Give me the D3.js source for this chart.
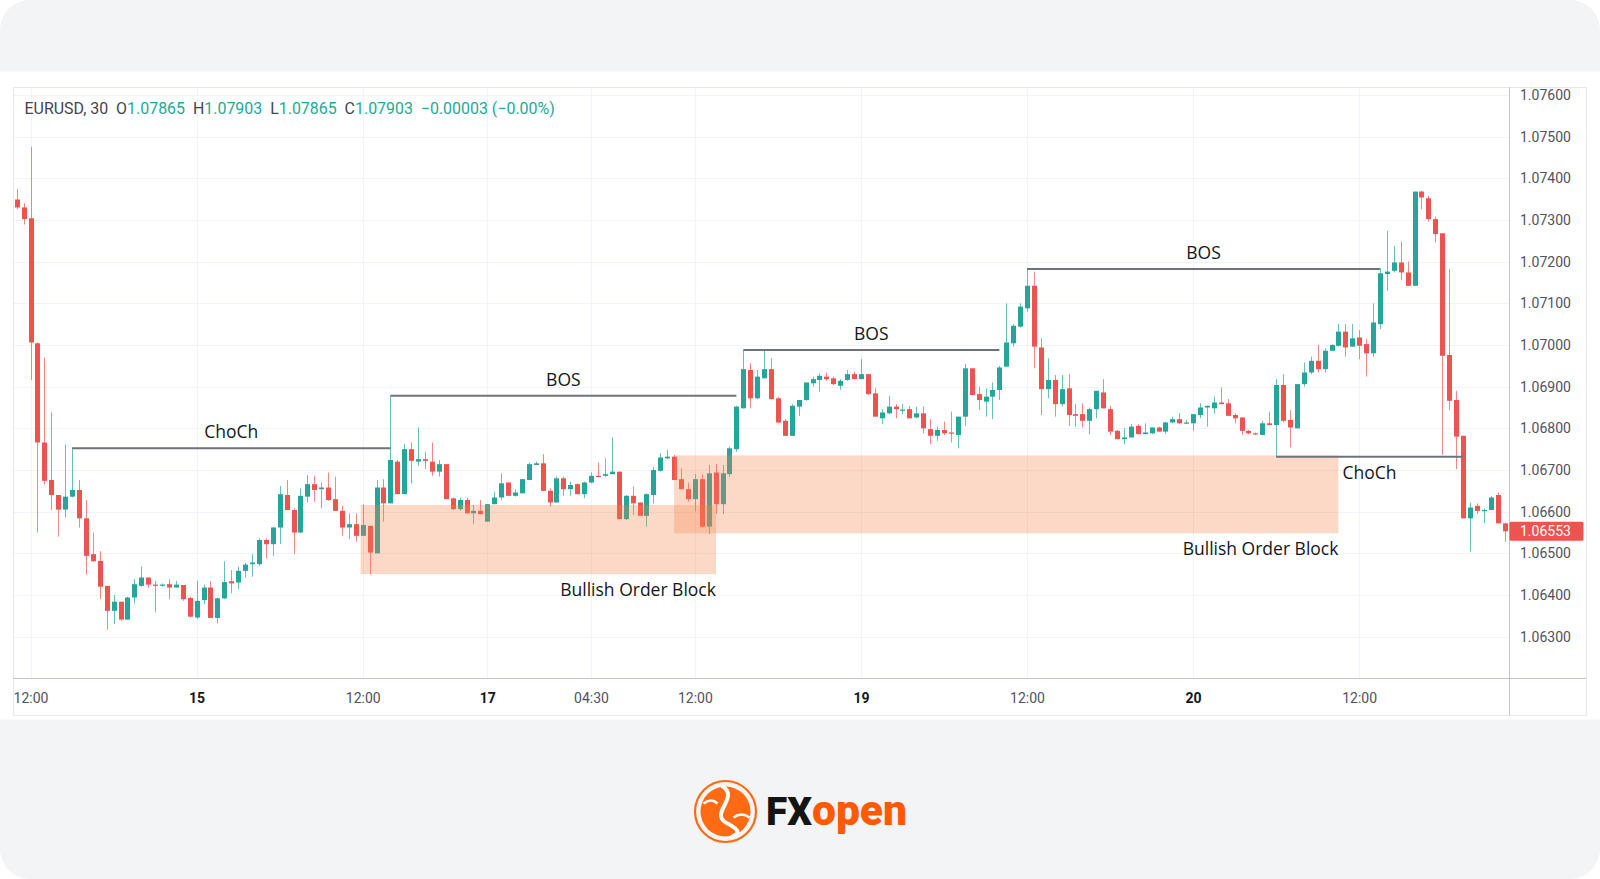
<!DOCTYPE html>
<html><head><meta charset="utf-8">
<script src="https://cdn.jsdelivr.net/npm/d3@7"></script>
<style>html,body{margin:0;padding:0;background:#fff;overflow:hidden}svg{display:block}</style>
</head><body>
<svg id="c" width="1600" height="879"></svg>
<script>
// ---------------- DATA ----------------
const opens = [1.07349,1.07330,1.07304,1.07004,1.06766,1.06676,1.06640,1.06605,1.06636,1.06652,
1.06584,1.06498,1.06482,1.06422,1.06362,1.06384,1.06341,1.06394,1.06422,1.06442,
1.06425,1.06422,1.06426,1.06418,1.06424,1.06393,1.06346,1.06388,1.06418,1.06345,
1.06392,1.06433,1.06430,1.06458,1.06474,1.06474,1.06532,1.06522,1.06562,1.06640,
1.06604,1.06550,1.06636,1.06666,1.06654,1.06658,1.06630,1.06602,1.06562,1.06570,
1.06542,1.06566,1.06500,1.06658,1.06620,1.06720,1.06642,1.06750,1.06720,1.06726,
1.06720,1.06696,1.06714,1.06632,1.06606,1.06628,1.06596,1.06602,1.06576,1.06618,
1.06634,1.06670,1.06638,1.06644,1.06676,1.06712,1.06716,1.06650,1.06622,1.06680,
1.06654,1.06666,1.06642,1.06670,1.06686,1.06686,1.06690,1.06696,1.06582,1.06638,
1.06622,1.06590,1.06640,1.06698,1.06728,1.06732,1.06678,1.06654,1.06630,1.06678,
1.06564,1.06694,1.06618,1.06690,1.06750,1.06848,1.06940,1.06872,1.06920,1.06942,
1.06872,1.06818,1.06782,1.06852,1.06868,1.06908,1.06916,1.06924,1.06920,1.06902,
1.06916,1.06930,1.06918,1.06930,1.06884,1.06824,1.06836,1.06852,1.06842,1.06846,
1.06826,1.06836,1.06798,1.06782,1.06796,1.06790,1.06784,1.06828,1.06944,1.06882,
1.06864,1.06876,1.06892,1.06948,1.07004,1.07044,1.07088,1.07142,1.06994,1.06894,
1.06916,1.06858,1.06896,1.06834,1.06834,1.06818,1.06846,1.06886,1.06846,1.06794,
1.06774,1.06778,1.06806,1.06786,1.06788,1.06802,1.06792,1.06814,1.06822,1.06812,
1.06812,1.06832,1.06850,1.06848,1.06862,1.06860,1.06832,1.06826,1.06794,1.06788,
1.06784,1.06812,1.06808,1.06904,1.06820,1.06800,1.06906,1.06934,1.06962,1.06942,
1.06986,1.06998,1.07032,1.06996,1.07018,1.07002,1.06980,1.07050,1.07170,1.07178,
1.07198,1.07174,1.07142,1.07368,1.07352,1.07302,1.07268,1.06976,1.06868,1.06782,
1.06584,1.06614,1.06602,1.06604,1.06640,1.06572];
const highs = [1.07374,1.07340,1.07476,1.07006,1.06970,1.06838,1.06640,1.06761,1.06752,1.06676,
1.06628,1.06550,1.06505,1.06422,1.06400,1.06384,1.06396,1.06438,1.06468,1.06442,
1.06434,1.06428,1.06438,1.06434,1.06424,1.06396,1.06434,1.06425,1.06433,1.06394,
1.06481,1.06460,1.06468,1.06477,1.06498,1.06536,1.06536,1.06564,1.06662,1.06676,
1.06608,1.06656,1.06688,1.06686,1.06670,1.06694,1.06684,1.06614,1.06596,1.06596,
1.06618,1.06566,1.06676,1.06678,1.06878,1.06724,1.06762,1.06766,1.06802,1.06744,
1.06766,1.06724,1.06714,1.06634,1.06634,1.06634,1.06616,1.06628,1.06618,1.06648,
1.06692,1.06670,1.06654,1.06678,1.06718,1.06720,1.06738,1.06656,1.06684,1.06684,
1.06672,1.06668,1.06672,1.06694,1.06718,1.06728,1.06778,1.06696,1.06640,1.06660,
1.06622,1.06644,1.06708,1.06740,1.06748,1.06736,1.06704,1.06670,1.06690,1.06690,
1.06712,1.06714,1.06712,1.06756,1.06854,1.06988,1.06956,1.06940,1.06986,1.06968,
1.06876,1.06822,1.06858,1.06868,1.06910,1.06924,1.06932,1.06934,1.06924,1.06918,
1.06940,1.06936,1.06966,1.06930,1.06896,1.06846,1.06878,1.06858,1.06858,1.06854,
1.06852,1.06852,1.06822,1.06804,1.06816,1.06840,1.06828,1.06954,1.06944,1.06900,
1.06896,1.06910,1.06950,1.07100,1.07050,1.07100,1.07182,1.07176,1.07016,1.06968,
1.06928,1.06928,1.06930,1.06858,1.06860,1.06850,1.06890,1.06918,1.06854,1.06796,
1.06800,1.06810,1.06810,1.06812,1.06802,1.06804,1.06816,1.06828,1.06836,1.06820,
1.06834,1.06860,1.06854,1.06876,1.06898,1.06870,1.06836,1.06826,1.06796,1.06790,
1.06818,1.06840,1.06918,1.06930,1.06844,1.06906,1.06958,1.06972,1.07000,1.06992,
1.07002,1.07050,1.07050,1.07050,1.07036,1.07014,1.07100,1.07184,1.07274,1.07238,
1.07248,1.07200,1.07368,1.07370,1.07358,1.07308,1.07268,1.07182,1.06890,1.06782,
1.06622,1.06620,1.06608,1.06638,1.06646,1.06574];
const lows = [1.07326,1.07289,1.06916,1.06550,1.06665,1.06604,1.06540,1.06586,1.06634,1.06562,
1.06449,1.06481,1.06390,1.06317,1.06330,1.06338,1.06341,1.06380,1.06420,1.06418,
1.06358,1.06420,1.06390,1.06418,1.06386,1.06346,1.06342,1.06378,1.06345,1.06332,
1.06390,1.06404,1.06414,1.06442,1.06444,1.06470,1.06488,1.06494,1.06522,1.06604,
1.06498,1.06548,1.06622,1.06624,1.06608,1.06626,1.06602,1.06542,1.06534,1.06528,
1.06542,1.06450,1.06500,1.06576,1.06620,1.06642,1.06642,1.06668,1.06710,1.06702,
1.06686,1.06684,1.06630,1.06604,1.06602,1.06596,1.06570,1.06594,1.06576,1.06618,
1.06628,1.06638,1.06636,1.06644,1.06676,1.06712,1.06650,1.06612,1.06622,1.06638,
1.06638,1.06642,1.06632,1.06668,1.06684,1.06684,1.06690,1.06582,1.06580,1.06592,
1.06590,1.06564,1.06620,1.06696,1.06726,1.06676,1.06654,1.06624,1.06600,1.06562,
1.06546,1.06594,1.06594,1.06684,1.06744,1.06848,1.06848,1.06870,1.06920,1.06870,
1.06812,1.06782,1.06782,1.06830,1.06866,1.06900,1.06888,1.06914,1.06904,1.06892,
1.06914,1.06918,1.06918,1.06880,1.06828,1.06810,1.06834,1.06824,1.06834,1.06824,
1.06824,1.06788,1.06762,1.06770,1.06784,1.06766,1.06752,1.06806,1.06880,1.06844,
1.06828,1.06822,1.06868,1.06948,1.06996,1.07042,1.07080,1.06944,1.06832,1.06872,
1.06828,1.06852,1.06806,1.06804,1.06802,1.06786,1.06824,1.06848,1.06784,1.06774,
1.06762,1.06778,1.06786,1.06786,1.06786,1.06792,1.06786,1.06812,1.06810,1.06810,
1.06794,1.06824,1.06804,1.06836,1.06858,1.06830,1.06812,1.06784,1.06786,1.06784,
1.06784,1.06808,1.06732,1.06814,1.06754,1.06800,1.06900,1.06930,1.06934,1.06934,
1.06986,1.06996,1.06972,1.06996,1.06966,1.06924,1.06972,1.07038,1.07130,1.07174,
1.07156,1.07142,1.07142,1.07326,1.07296,1.07246,1.06736,1.06844,1.06702,1.06584,
1.06504,1.06594,1.06572,1.06604,1.06572,1.06528];
const closes = [1.07330,1.07302,1.07006,1.06766,1.06674,1.06640,1.06605,1.06636,1.06652,1.06584,
1.06494,1.06481,1.06420,1.06362,1.06384,1.06341,1.06394,1.06426,1.06442,1.06425,
1.06422,1.06425,1.06418,1.06425,1.06390,1.06348,1.06386,1.06418,1.06345,1.06392,
1.06431,1.06428,1.06458,1.06473,1.06478,1.06532,1.06522,1.06562,1.06642,1.06604,
1.06550,1.06638,1.06666,1.06652,1.06658,1.06628,1.06602,1.06562,1.06570,1.06542,
1.06568,1.06502,1.06658,1.06620,1.06724,1.06642,1.06750,1.06722,1.06726,1.06722,
1.06696,1.06714,1.06630,1.06606,1.06628,1.06596,1.06602,1.06594,1.06618,1.06634,
1.06668,1.06638,1.06646,1.06678,1.06714,1.06716,1.06650,1.06622,1.06680,1.06654,
1.06664,1.06642,1.06670,1.06686,1.06684,1.06690,1.06696,1.06582,1.06638,1.06620,
1.06590,1.06642,1.06700,1.06730,1.06732,1.06676,1.06654,1.06630,1.06678,1.06564,
1.06692,1.06618,1.06692,1.06752,1.06852,1.06942,1.06872,1.06924,1.06942,1.06870,
1.06814,1.06782,1.06854,1.06868,1.06910,1.06918,1.06926,1.06918,1.06906,1.06914,
1.06930,1.06918,1.06930,1.06882,1.06828,1.06838,1.06852,1.06846,1.06845,1.06824,
1.06836,1.06800,1.06782,1.06796,1.06788,1.06788,1.06828,1.06944,1.06880,1.06868,
1.06876,1.06892,1.06946,1.07006,1.07046,1.07092,1.07142,1.06996,1.06894,1.06916,
1.06858,1.06894,1.06832,1.06830,1.06818,1.06846,1.06890,1.06848,1.06792,1.06774,
1.06778,1.06804,1.06786,1.06790,1.06802,1.06792,1.06814,1.06822,1.06812,1.06814,
1.06834,1.06850,1.06854,1.06862,1.06858,1.06830,1.06824,1.06794,1.06788,1.06786,
1.06812,1.06808,1.06904,1.06818,1.06802,1.06906,1.06934,1.06962,1.06942,1.06986,
1.07000,1.07032,1.06994,1.07016,1.06998,1.06980,1.07054,1.07172,1.07176,1.07198,
1.07174,1.07142,1.07368,1.07354,1.07302,1.07266,1.06974,1.06866,1.06780,1.06584,
1.06610,1.06602,1.06604,1.06634,1.06572,1.06553];

const timeTickIdx    = [2, 26, 50, 68, 83, 98, 122, 146, 170, 194];
const timeTickLabels = ["12:00","15","12:00","17","04:30","12:00","19","12:00","20","12:00"];
const timeTickBold   = [false,true,false,true,false,false,true,false,true,false];
const priceTicks = [1.063,1.064,1.065,1.066,1.067,1.068,1.069,1.070,1.071,1.072,1.073,1.074,1.075,1.076];
const lastPrice = 1.06553;

const levelLabels = ["ChoCh","BOS","BOS","BOS","ChoCh"];
const levelPrices = [1.06752, 1.06878, 1.06988, 1.07182, 1.06732];
const levelStart  = [8, 54, 105, 146, 182];
const levelEnd    = [54, 104, 142, 197, 209];
const levelBelow  = [false, false, false, false, true];

const blockLabels = ["Bullish Order Block", "Bullish Order Block"];
const blockTop    = [1.06616, 1.06735];
const blockBottom = [1.06450, 1.06548];
const blockStart  = [49.7, 95.0];
const blockEnd    = [101.05, 191.0];

const headerParts = [
  {t:"EURUSD, 30", c:"dark"},{t:"  O", c:"dark"},{t:"1.07865", c:"up"},
  {t:"  H", c:"dark"},{t:"1.07903", c:"up"},{t:"  L", c:"dark"},{t:"1.07865", c:"up"},
  {t:"  C", c:"dark"},{t:"1.07903", c:"up"},{t:"  \u22120.00003 (\u22120.00%)", c:"up"}
];

// ---------------- LAYOUT ----------------
const W = 1600, H = 879;
const UP = "#26a69a", DN = "#ef5350";
const frame = {l: 13, t: 87, r: 1586, b: 715};
const plotR = 1509, plotB = 678;

const svg = d3.select("#c");
const n = opens.length;
const x = d3.scaleLinear().domain([0, n - 1]).range([16.7, 16.7 + (n - 1) * 6.92]);
const y = d3.scaleLinear().domain([1.063, 1.076]).range([636.7, 94.9]);

// background card
svg.append("rect").attr("x",0).attr("y",0).attr("width",W).attr("height",H)
  .attr("rx",30).attr("fill","#f3f4f6");
svg.append("rect").attr("x",0).attr("y",71.5).attr("width",W).attr("height",648)
  .attr("fill","#ffffff");

// grid
const grid = svg.append("g");
grid.selectAll("line.h").data(priceTicks).join("line")
  .attr("x1", frame.l).attr("x2", plotR)
  .attr("y1", d => Math.round(y(d)) + 0.5).attr("y2", d => Math.round(y(d)) + 0.5)
  .attr("stroke", "#f0f3fa").attr("stroke-width", 1);
grid.selectAll("line.v").data(timeTickIdx).join("line")
  .attr("x1", d => Math.round(x(d)) + 0.5).attr("x2", d => Math.round(x(d)) + 0.5)
  .attr("y1", frame.t).attr("y2", plotB)
  .attr("stroke", "#f0f3fa").attr("stroke-width", 1);

// clip
svg.append("clipPath").attr("id","plotclip").append("rect")
  .attr("x", frame.l).attr("y", frame.t).attr("width", plotR - frame.l).attr("height", plotB - frame.t);

const plot = svg.append("g").attr("clip-path","url(#plotclip)");
const idx = d3.range(n);

// candles
const cg = plot.append("g");
cg.selectAll("line.w").data(idx).join("line")
  .attr("x1", i => Math.round(x(i)) + 0.5).attr("x2", i => Math.round(x(i)) + 0.5)
  .attr("y1", i => y(highs[i])).attr("y2", i => y(lows[i]))
  .attr("stroke", i => closes[i] >= opens[i] ? UP : DN)
  .attr("stroke-opacity", 0.7).attr("stroke-width", 1);
cg.selectAll("rect.b").data(idx).join("rect")
  .attr("x", i => Math.round(x(i)) - 2).attr("width", 5)
  .attr("y", i => y(Math.max(opens[i], closes[i])))
  .attr("height", i => Math.max(1.2, Math.abs(y(opens[i]) - y(closes[i]))))
  .attr("fill", i => closes[i] >= opens[i] ? UP : DN);

// order blocks
const bidx = d3.range(blockLabels.length);
plot.selectAll("rect.ob").data(bidx).join("rect")
  .attr("x", i => x(blockStart[i])).attr("width", i => x(blockEnd[i]) - x(blockStart[i]))
  .attr("y", i => y(blockTop[i])).attr("height", i => y(blockBottom[i]) - y(blockTop[i]))
  .attr("fill", "rgba(245,130,70,0.3)");

// levels
const lidx = d3.range(levelLabels.length);
plot.selectAll("line.lv").data(lidx).join("line")
  .attr("x1", i => x(levelStart[i])).attr("x2", i => x(levelEnd[i]))
  .attr("y1", i => y(levelPrices[i])).attr("y2", i => y(levelPrices[i]))
  .attr("stroke", "#6f727d").attr("stroke-width", 2);

const annFont = "'Open Sans', 'Noto Sans', sans-serif";
svg.selectAll("text.lv").data(lidx).join("text")
  .attr("x", i => (x(levelStart[i]) + x(levelEnd[i])) / 2)
  .attr("y", i => y(levelPrices[i]) + (levelBelow[i] ? 22 : -10))
  .attr("text-anchor", "middle").attr("font-family", annFont).attr("font-size", 17.5)
  .attr("fill", "#131722").text(i => levelLabels[i]);
svg.selectAll("text.ob").data(bidx).join("text")
  .attr("x", i => x(blockEnd[i]))
  .attr("y", i => y(blockBottom[i]) + 22)
  .attr("text-anchor", "end").attr("font-family", annFont).attr("font-size", 17.5)
  .attr("fill", "#131722").text(i => blockLabels[i]);

// frame
const fr = svg.append("g").attr("fill","none");
fr.append("rect").attr("x", frame.l + 0.5).attr("y", frame.t + 0.5)
  .attr("width", frame.r - frame.l).attr("height", frame.b - frame.t)
  .attr("stroke", "#e6e8ee");
fr.append("line").attr("x1", plotR + 0.5).attr("x2", plotR + 0.5).attr("y1", frame.t).attr("y2", frame.b)
  .attr("stroke", "#c3c5cc");
fr.append("line").attr("x1", frame.l).attr("x2", frame.r).attr("y1", plotB + 0.5).attr("y2", plotB + 0.5)
  .attr("stroke", "#c3c5cc");

// price axis
const axFont = "Roboto, 'Liberation Sans', sans-serif";
const yAxis = d3.axisRight(y).tickValues(priceTicks).tickFormat(d3.format(".5f")).tickSize(0).tickPadding(11);
const ya = svg.append("g").attr("transform", `translate(${plotR},0)`).call(yAxis);
ya.select(".domain").remove();
ya.selectAll("text").attr("font-family", axFont).attr("font-size", 14).attr("fill", "#50535e");

// last price tag
svg.append("rect").attr("x", plotR + 0.5).attr("y", y(lastPrice) - 9.5).attr("width", 74).attr("height", 19)
  .attr("rx", 1.5).attr("fill", "#ef5350");
svg.append("text").attr("x", plotR + 11).attr("y", y(lastPrice)).attr("dy", "0.35em")
  .attr("font-family", axFont).attr("font-size", 14).attr("fill", "#ffffff").text(d3.format(".5f")(lastPrice));

// time axis
const xAxis = d3.axisBottom(x).tickValues(timeTickIdx).tickSize(0).tickPadding(15)
  .tickFormat((d, i) => timeTickLabels[i]);
const xa = svg.append("g").attr("transform", `translate(0,${plotB})`).call(xAxis);
xa.select(".domain").remove();
xa.selectAll("text").attr("font-family", axFont).attr("font-size", 14)
  .attr("fill", (d, i) => timeTickBold[i] ? "#131722" : "#50535e")
  .attr("font-weight", (d, i) => timeTickBold[i] ? 700 : 400);

// header legend
const hdr = svg.append("text").attr("x", 24.5).attr("y", 114)
  .attr("font-family", axFont).attr("font-size", 15).attr("xml:space", "preserve")
  .style("white-space", "pre");
hdr.selectAll("tspan").data(headerParts).join("tspan")
  .attr("fill", d => d.c === "up" ? "#22ab94" : "#434651").text(d => d.t);
const hw = hdr.node().getComputedTextLength();
hdr.attr("font-size", 15 * 531 / hw);

// logo
const logo = svg.append("g");
const cx = 725.5, cy = 811.5;
logo.append("circle").attr("cx", cx).attr("cy", cy).attr("r", 30.5)
  .attr("fill", "none").attr("stroke", "#ff6a13").attr("stroke-width", 2.2);
logo.append("circle").attr("cx", cx).attr("cy", cy).attr("r", 25).attr("fill", "#ff6a13");
logo.append("path")
  .attr("d", `M${cx-4},${cy-26} C${cx+16},${cy-14} ${cx-18},${cy+2} ${cx+2},${cy+12} S${cx+6},${cy+24} ${cx+4},${cy+27}`)
  .attr("fill", "none").attr("stroke", "#ffffff").attr("stroke-width", 4);
logo.append("path")
  .attr("d", `M${cx-22},${cy-8} q8,-6 14,0 M${cx+8},${cy+6} q8,-6 16,0`)
  .attr("fill", "none").attr("stroke", "#ffffff").attr("stroke-width", 2.5);
const lf = "Roboto, 'Liberation Sans', sans-serif";
logo.append("text").attr("x", 766).attr("y", 825).attr("font-family", lf).attr("font-weight", 900)
  .attr("font-size", 38).attr("fill", "#141414").attr("textLength", 46).attr("lengthAdjust","spacingAndGlyphs").text("FX");
logo.append("text").attr("x", 812).attr("y", 825).attr("font-family", lf).attr("font-weight", 900)
  .attr("font-size", 42).attr("fill", "#ff5a00").attr("textLength", 95).attr("lengthAdjust","spacingAndGlyphs").text("open");
</script>
</body></html>
